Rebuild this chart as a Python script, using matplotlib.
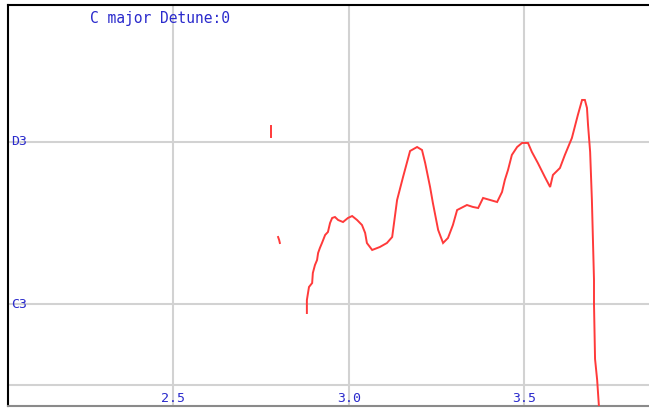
import matplotlib
matplotlib.use("Agg")
import matplotlib.pyplot as plt

# ---- data ----
time_s = [2.880, 2.880, 2.886, 2.895, 2.897, 2.903, 2.909, 2.912, 2.917, 2.923,
          2.932, 2.940, 2.946, 2.952, 2.960, 2.969, 2.983, 2.997, 3.009, 3.023,
          3.037, 3.046, 3.051, 3.066, 3.088, 3.108, 3.123, 3.137, 3.154, 3.174,
          3.194, 3.208, 3.217, 3.231, 3.239, 3.254, 3.268, 3.282, 3.296, 3.308,
          3.336, 3.353, 3.368, 3.382, 3.402, 3.422, 3.436, 3.444, 3.453, 3.464,
          3.479, 3.493, 3.510, 3.521, 3.538, 3.558, 3.573, 3.581, 3.601, 3.615,
          3.635, 3.652, 3.664, 3.672, 3.678, 3.681, 3.687, 3.692, 3.698, 3.698,
          3.701, 3.707, 3.712]
pitch_midi = [47.889, 48.049, 48.210, 48.259, 48.383, 48.481, 48.543, 48.630, 48.691, 48.753,
              48.852, 48.889, 49.000, 49.062, 49.074, 49.037, 49.012, 49.062, 49.086, 49.037,
              48.975, 48.877, 48.753, 48.667, 48.704, 48.753, 48.827, 49.284, 49.568, 49.889,
              49.938, 49.901, 49.741, 49.444, 49.247, 48.914, 48.753, 48.815, 48.975, 49.160,
              49.222, 49.198, 49.185, 49.309, 49.284, 49.259, 49.383, 49.531, 49.654, 49.840,
              49.938, 49.988, 49.988, 49.877, 49.741, 49.568, 49.444, 49.593, 49.679, 49.840,
              50.049, 50.333, 50.519, 50.519, 50.420, 50.210, 49.877, 49.284, 48.296, 48.000,
              47.321, 47.062, 46.741]

blip1_t = [2.778, 2.778]
blip1_p = [50.198, 50.062]
blip2_t = [2.798, 2.801, 2.803]
blip2_p = [48.827, 48.790, 48.753]

x_ticks = [2.5, 3.0, 3.5]
x_tick_labels = ["2.5", "3.0", "3.5"]
note_lines = [47, 48, 50]
note_labels = {50: "D3", 48: "C3"}
title_text = "C major Detune:0"

# ---- style ----
blue = "#2a2acc"
red = "#ff3a3a"
grid_c = "#d2d2d2"
mono = ["DejaVu Sans Mono"]

fig = plt.figure(figsize=(6.49, 4.08), dpi=100)
fig.patch.set_facecolor("white")
ax = fig.add_axes([8/649, 2/408, 641/649, 401/408])
ax.set_xlim(2.0285, 3.8547)
ax.set_ylim(46.741, 51.691)
ax.set_xticks([])
ax.set_yticks([])

for x in x_ticks:
    ax.axvline(x, color=grid_c, lw=1.5, zorder=1)
for y in note_lines:
    ax.axhline(y, color=grid_c, lw=1.5, zorder=1)

ax.plot(time_s, pitch_midi, color=red, lw=1.4, zorder=3, solid_joinstyle="miter")
ax.plot(blip1_t, blip1_p, color=red, lw=1.4, zorder=3)
ax.plot(blip2_t, blip2_p, color=red, lw=1.4, zorder=3)

for x, lab in zip(x_ticks, x_tick_labels):
    ax.annotate(lab, xy=(x, 0), xycoords=("data", "axes fraction"),
                xytext=(0, 1), textcoords="offset points",
                ha="center", va="bottom", color=blue, fontsize=9.5, family=mono, zorder=4)

for y, lab in note_labels.items():
    ax.annotate(lab, xy=(0, y), xycoords=("axes fraction", "data"),
                xytext=(2, 0), textcoords="offset points",
                ha="left", va="center", color=blue, fontsize=9.5, family=mono, zorder=4)

ax.text(82/641, 1 - 13/401, title_text, transform=ax.transAxes, ha="left", va="center",
        color=blue, fontsize=10.5, family=mono)

ax.spines["left"].set_color("black")
ax.spines["left"].set_linewidth(1.5)
ax.spines["top"].set_color("black")
ax.spines["top"].set_linewidth(1.5)
ax.spines["bottom"].set_color("#8a8a8a")
ax.spines["bottom"].set_linewidth(1.5)
ax.spines["right"].set_visible(False)

fig.savefig("out.png", dpi=100, facecolor="white")
